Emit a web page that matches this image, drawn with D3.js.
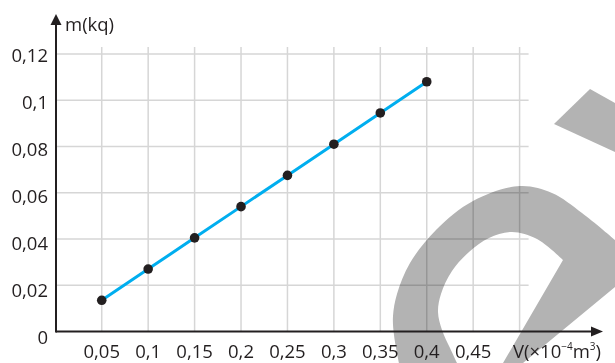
<!DOCTYPE html>
<html>
<head>
<meta charset="utf-8">
<script src="https://cdn.jsdelivr.net/npm/d3@7"></script>
<style>
  html, body { margin: 0; padding: 0; background: #fff; }
  svg { display: block; }
  text { font-family: "Open Sans", "Noto Sans", sans-serif; fill: #231f20; }
</style>
</head>
<body>
<svg id="chart" width="615" height="363"></svg>
<script>
// Mass of an aluminium sample versus its volume
const volumes = [0.05, 0.1, 0.15, 0.2, 0.25, 0.3, 0.35, 0.4];
const masses = [0.0135, 0.027, 0.0405, 0.054, 0.0675, 0.081, 0.0945, 0.108];
const xTicks = [0.05, 0.1, 0.15, 0.2, 0.25, 0.3, 0.35, 0.4, 0.45];
const xTickLabels = ["0,05", "0,1", "0,15", "0,2", "0,25", "0,3", "0,35", "0,4", "0,45"];
const xGrid = [0.05, 0.1, 0.15, 0.2, 0.25, 0.3, 0.35, 0.4, 0.45, 0.5];
const yTicks = [0, 0.02, 0.04, 0.06, 0.08, 0.1, 0.12];
const yTickLabels = ["0", "0,02", "0,04", "0,06", "0,08", "0,1", "0,12"];
const yGrid = [0.02, 0.04, 0.06, 0.08, 0.1, 0.12];

const svg = d3.select("#chart");
const ink = "#231f20";

const x = d3.scaleLinear().domain([0, 0.5]).range([55.3, 519.6]);
const y = d3.scaleLinear().domain([0, 0.12]).range([331.5, 54]);
// tick labels sit on a slightly wider pitch than the grid
const yLab = d3.scaleLinear().domain([0, 0.12]).range([338, 55.5]);

const x0 = x(0) + 0.7, y0 = y(0);

// grid
const grid = svg.append("g").attr("stroke", "#d6d6d6").attr("stroke-width", 1.5);
grid.selectAll("line.v").data(xGrid).join("line")
  .attr("class", "v")
  .attr("x1", d => x(d)).attr("x2", d => x(d))
  .attr("y1", y(0.12) - 7).attr("y2", y0);
grid.selectAll("line.h").data(yGrid).join("line")
  .attr("class", "h")
  .attr("x1", x0).attr("x2", x(0.5) + 9)
  .attr("y1", d => y(d)).attr("y2", d => y(d));

// background emblem: a curved stroke with a diagonal foot, plus an accent wedge
const emblem = svg.append("g").style("mix-blend-mode", "multiply").attr("fill", "#b3b3b3");
const outerEdge = [[399, 363], [394, 335], [393, 316], [397, 294], [410, 263], [436, 230],
  [473, 201], [520, 186], [552, 193], [582, 213], [615, 240]];
const innerEdge = [[563, 260], [537, 239], [512, 232], [489, 238], [469, 252], [452, 271],
  [441, 294], [438, 312], [442, 330], [450, 348], [457, 363]];
const smooth = d3.line().curve(d3.curveCatmullRom.alpha(0.5));
const tail = s => s.replace(/^M/, "L");
const archPath =
  smooth(outerEdge) +
  "L615,287L523,363L503,363L563,260" +
  tail(smooth(innerEdge)) + "Z";
emblem.append("path").attr("d", archPath);
const accent = [[590, 89], [615, 103], [615, 152], [554, 124]];
emblem.append("path").attr("d", d3.line().curve(d3.curveLinearClosed)(accent));

// axes
const axes = svg.append("g").attr("stroke", ink).attr("stroke-width", 2);
axes.append("line").attr("x1", x0).attr("x2", 596).attr("y1", y0).attr("y2", y0);
axes.append("line").attr("x1", x0).attr("x2", x0).attr("y1", y0 + 1).attr("y2", 20);
svg.append("path").attr("fill", ink)
  .attr("d", `M603,${y0} L591,${y0 - 5} L591,${y0 + 5} Z`);
svg.append("path").attr("fill", ink)
  .attr("d", `M${x0},14 L${x0 - 5.5},25 L${x0 + 5.5},25 Z`);

// tick labels
svg.append("g").selectAll("text").data(xTicks).join("text")
  .attr("x", d => x(d)).attr("y", 358)
  .attr("text-anchor", "middle").attr("font-size", 18.5)
  .text((d, i) => xTickLabels[i]);
svg.append("g").selectAll("text").data(yTicks).join("text")
  .attr("x", 48).attr("y", d => yLab(d)).attr("dy", "0.35em")
  .attr("text-anchor", "end").attr("font-size", 18.5)
  .text((d, i) => yTickLabels[i]);

// axis titles
svg.append("text").attr("x", 65).attr("y", 31).attr("font-size", 18.5).text("m(kq)");
const vt = svg.append("text").attr("x", 513).attr("y", 358).attr("font-size", 18.5);
vt.append("tspan").text("V(×10");
vt.append("tspan").attr("font-size", 10).attr("dy", -8).text("−4");
vt.append("tspan").attr("dy", 8).text("m");
vt.append("tspan").attr("font-size", 10).attr("dy", -8).text("3");
vt.append("tspan").attr("dy", 8).text(")");

// data line and points
svg.append("path")
  .datum(volumes.map((v, i) => [v, masses[i]]))
  .attr("fill", "none").attr("stroke", "#00aeef").attr("stroke-width", 3)
  .attr("d", d3.line().x(d => x(d[0])).y(d => y(d[1])));
svg.append("g").selectAll("circle").data(volumes).join("circle")
  .attr("cx", d => x(d)).attr("cy", (d, i) => y(masses[i]))
  .attr("r", 4.8).attr("fill", ink);
</script>
</body>
</html>
